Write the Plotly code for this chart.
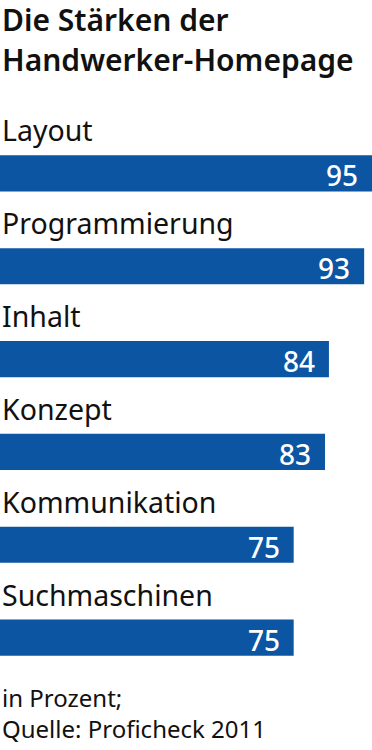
import plotly.graph_objects as go

categories = ["Layout", "Programmierung", "Inhalt", "Konzept", "Kommunikation", "Suchmaschinen"]
values = [95, 93, 84, 83, 75, 75]
title_lines = ["Die Stärken der", "Handwerker-Homepage"]
footer_lines = ["in Prozent;", "Quelle: Proficheck 2011"]

W, H = 372, 750
TOP, BOTTOM = 126.5, 684.5
FONT = "Noto Sans"
BLUE = "#0b55a3"
INK = "#111111"

def py(px):
    return (BOTTOM - px) / (BOTTOM - TOP)

pos = list(range(len(categories)))

fig = go.Figure(go.Bar(
    x=values, y=pos, orientation="h",
    marker=dict(color=BLUE, line=dict(width=0)),
    width=0.39, hoverinfo="skip",
))

ann = []
for p, c, v in zip(pos, categories, values):
    ann.append(dict(x=0, y=p, xref="x", yref="y", text=c, showarrow=False,
                    xanchor="left", yanchor="middle", yshift=43,
                    font=dict(family=FONT, size=28.5, color=INK, weight=400)))
    ann.append(dict(x=v, y=p, xref="x", yref="y", text=str(v), showarrow=False,
                    xanchor="right", yanchor="middle", xshift=-12, yshift=-2,
                    font=dict(family=FONT, size=28, color="white", weight=500)))

for txt, yc in zip(title_lines, [19, 58.5]):
    ann.append(dict(x=0, y=py(yc), xref="paper", yref="paper", text=txt,
                    showarrow=False, xanchor="left", yanchor="middle",
                    font=dict(family=FONT, size=30, color=INK, weight=600)))
ann.append(dict(x=0, y=py(714), xref="paper", yref="paper", text="<br>".join(footer_lines),
                showarrow=False, xanchor="left", yanchor="middle", align="left",
                font=dict(family=FONT, size=24, color=INK, weight=400)))

fig.update_layout(
    width=W, height=H,
    margin=dict(l=0, r=0, t=TOP, b=H - BOTTOM, pad=0),
    paper_bgcolor="white", plot_bgcolor="white",
    showlegend=False,
    xaxis=dict(range=[0, 95], visible=False, fixedrange=True),
    yaxis=dict(range=[len(categories) - 0.5, -0.5], visible=False, fixedrange=True),
    annotations=ann,
)

fig.write_html("out.html", config={"displayModeBar": False},
               post_script="document.body.style.margin='0';")
